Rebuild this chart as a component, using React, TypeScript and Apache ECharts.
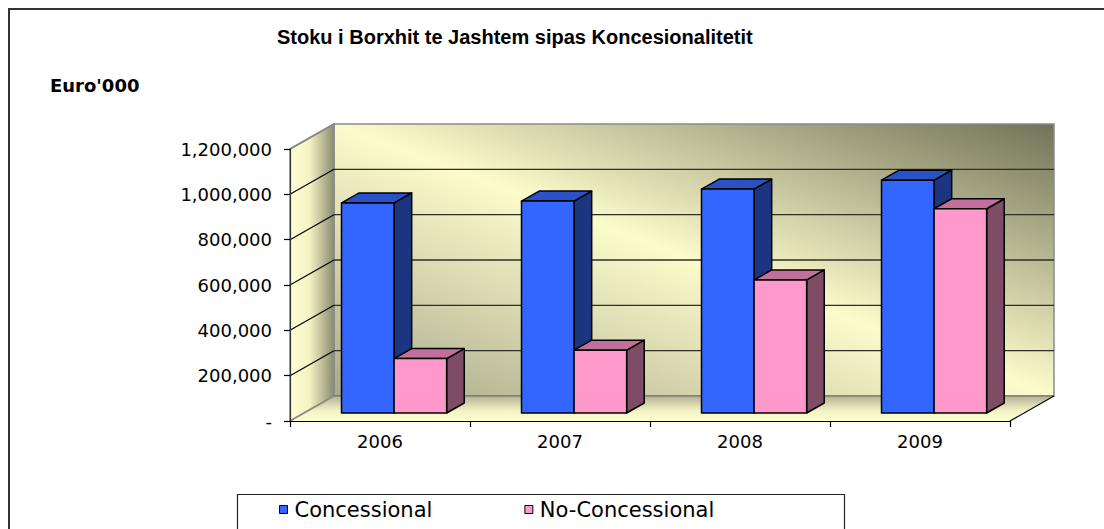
import React, { useEffect, useRef } from 'react';
import * as echarts from 'echarts';

const years = ['2006', '2007', '2008', '2009'];
const concessional = [927000, 935000, 988000, 1027000];
const noConcessional = [240000, 277000, 587000, 901000];
const seriesNames = ['Concessional', 'No-Concessional'];
const yMax = 1200000;
const yInterval = 200000;

const DEPTH_X = 44;
const DEPTH_Y = -25;
const BAR_FRONT = 0.32;
const BAR_DEPTH = 0.4;
const GROUP_HALF = 0.292;

const fmt = (v: number) => (v === 0 ? '-' : v.toLocaleString('en-US'));

const barRenderer = (side: number, front: string, top: string, sideC: string) => (params: any, api: any) => {
  const cat = api.value(0);
  const val = api.value(1);
  const pTop = api.coord([cat, val]);
  const pBot = api.coord([cat, 0]);
  const catW = api.size([1, 0])[0];
  const half = GROUP_HALF * catW;
  const sx = BAR_FRONT * DEPTH_X;
  const sy = BAR_FRONT * DEPTH_Y;
  const x0 = pTop[0] + sx + (side === 0 ? -half : 0);
  const x1 = x0 + half;
  const yT = pTop[1] + sy;
  const yB = pBot[1] + sy;
  const dx = BAR_DEPTH * DEPTH_X;
  const dy = BAR_DEPTH * DEPTH_Y;
  const st = { stroke: '#000', lineWidth: 1.5, lineJoin: 'round' };
  return {
    type: 'group',
    children: [
      { type: 'polygon', shape: { points: [[x1, yT], [x1 + dx, yT + dy], [x1 + dx, yB + dy], [x1, yB]] }, style: { fill: sideC, ...st } },
      { type: 'polygon', shape: { points: [[x0, yT], [x1, yT], [x1 + dx, yT + dy], [x0 + dx, yT + dy]] }, style: { fill: top, ...st } },
      { type: 'rect', shape: { x: x0, y: yT, width: half, height: yB - yT }, style: { fill: front, ...st } },
    ],
  };
};

const bgRenderer = (params: any, api: any) => {
  const cs = params.coordSys;
  const L = cs.x, R = cs.x + cs.width, T = cs.y, B = cs.y + cs.height;
  const DX = DEPTH_X, DY = DEPTH_Y;
  const children: any[] = [];
  children.push({
    type: 'polygon',
    shape: { points: [[L + DX, T + DY], [R + DX, T + DY], [R + DX, B + DY], [L + DX, B + DY]] },
    style: {
      fill: new echarts.graphic.LinearGradient(1, 0, 0, 1, [
        { offset: 0, color: '#727258' },
        { offset: 0.5, color: '#FCFBCB' },
        { offset: 1, color: '#A9A88B' },
      ]),
      stroke: '#8a8a8a', lineWidth: 1.5,
    },
  });
  children.push({
    type: 'polygon',
    shape: { points: [[L, T], [L + DX, T + DY], [L + DX, B + DY], [L, B]] },
    style: {
      fill: new echarts.graphic.LinearGradient(0, 0, 1, 0, [
        { offset: 0, color: '#FFFFD2' },
        { offset: 0.45, color: '#F3F2C3' },
        { offset: 1, color: '#8C8B70' },
      ]),
      stroke: '#8a8a8a', lineWidth: 1.5,
    },
  });
  children.push({
    type: 'polygon',
    shape: { points: [[L, B], [R, B], [R + DX, B + DY], [L + DX, B + DY]] },
    style: {
      fill: new echarts.graphic.LinearGradient(0, 0, 0, 1, [
        { offset: 0, color: '#B4B292' },
        { offset: 0.6, color: '#F4F3C6' },
        { offset: 1, color: '#FFFFD0' },
      ]),
    },
  });
  for (let v = yInterval; v < yMax; v += yInterval) {
    const y = api.coord([0, v])[1];
    children.push({ type: 'line', shape: { x1: L + DX, y1: y + DY, x2: R + DX, y2: y + DY }, style: { stroke: '#2f2f28', lineWidth: 1.3 } });
    children.push({ type: 'line', shape: { x1: L, y1: y, x2: L + DX, y2: y + DY }, style: { stroke: '#000', lineWidth: 1.2 } });
  }
  children.push({ type: 'line', shape: { x1: L, y1: T, x2: L + DX, y2: T + DY }, style: { stroke: '#8a8a8a', lineWidth: 1.5 } });
  children.push({ type: 'line', shape: { x1: L, y1: B, x2: L + DX, y2: B + DY }, style: { stroke: '#8a8a8a', lineWidth: 1.5 } });
  children.push({ type: 'line', shape: { x1: L + DX, y1: B + DY, x2: R + DX, y2: B + DY }, style: { stroke: '#6a6a60', lineWidth: 1.2 } });
  children.push({ type: 'line', shape: { x1: R, y1: B, x2: R + DX, y2: B + DY }, style: { stroke: '#000', lineWidth: 1.2 } });
  return { type: 'group', children };
};

export default function App() {
  const ref = useRef<HTMLDivElement>(null);
  useEffect(() => {
    if (!ref.current) return;
    const chart = echarts.init(ref.current, null, { renderer: 'svg' });
    chart.setOption({
      animation: false,
      backgroundColor: '#ffffff',
      title: {
        text: 'Stoku i Borxhit te Jashtem sipas Koncesionalitetit',
        left: 277,
        top: 27,
        padding: 0,
        textStyle: { fontFamily: 'Liberation Sans', fontWeight: 'bold', fontSize: 20, color: '#000' },
      },
      graphic: [
        { type: 'rect', shape: { x: 9, y: 9, width: 1200, height: 600 }, style: { fill: 'none', stroke: '#333', lineWidth: 2 }, silent: true, z: -10 },
        { type: 'rect', shape: { x: 237.5, y: 494.5, width: 607, height: 60 }, style: { fill: 'none', stroke: '#222', lineWidth: 1.2 }, silent: true },
        { type: 'text', left: 50, top: 76, style: { text: "Euro'000", fontFamily: 'DejaVu Sans', fontWeight: 'bold', fontSize: 18, fill: '#000' } },
      ],
      legend: {
        data: seriesNames,
        left: 279,
        top: 499,
        padding: 0,
        icon: 'rect',
        itemWidth: 8,
        itemHeight: 8,
        itemGap: 92,
        itemStyle: { borderColor: '#000', borderWidth: 1 },
        textStyle: { fontFamily: 'DejaVu Sans', fontSize: 21, color: '#000', padding: [0, 0, 0, 2] },
      },
      grid: { left: 290, right: 94, top: 149, bottom: 108, containLabel: false },
      xAxis: {
        type: 'category',
        data: years,
        z: 5,
        axisLine: { lineStyle: { color: '#000', width: 1.2 } },
        axisTick: { show: true, length: 6, lineStyle: { color: '#000', width: 1.2 } },
        axisLabel: { fontFamily: 'DejaVu Sans', fontSize: 18, color: '#000', margin: 11 },
        splitLine: { show: false },
      },
      yAxis: {
        type: 'value',
        min: 0,
        max: yMax,
        interval: yInterval,
        z: 5,
        axisLine: { show: true, lineStyle: { color: '#333', width: 1.2 } },
        axisTick: { show: true, length: 6, lineStyle: { color: '#000', width: 1.2 } },
        axisLabel: { fontFamily: 'DejaVu Sans', fontSize: 18, color: '#000', margin: 18, formatter: fmt },
        splitLine: { show: false },
      },
      series: [
        {
          type: 'custom',
          name: 'bg',
          z: 1,
          silent: true,
          renderItem: bgRenderer,
          data: [[0, 0]],
        },
        {
          type: 'custom',
          name: seriesNames[0],
          z: 2,
          itemStyle: { color: '#3366FF' },
          renderItem: barRenderer(0, '#3366FF', '#2A52C8', '#1B3580'),
          data: years.map((_, i) => [i, concessional[i]]),
        },
        {
          type: 'custom',
          name: seriesNames[1],
          z: 3,
          itemStyle: { color: '#FF99CC' },
          renderItem: barRenderer(1, '#FF99CC', '#C0709A', '#7F4C65'),
          data: years.map((_, i) => [i, noConcessional[i]]),
        },
      ],
    });
    return () => chart.dispose();
  }, []);
  return <div ref={ref} style={{ position: 'absolute', left: 0, top: 0, width: 1104, height: 529, overflow: 'hidden' }} />;
}
